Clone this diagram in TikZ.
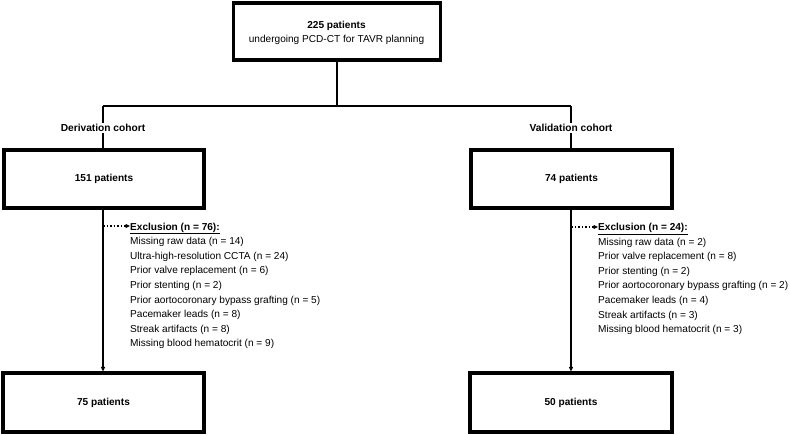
\documentclass[tikz,border=0pt]{standalone}
\usepackage{fontspec}
\setmainfont{Liberation Sans}
\usetikzlibrary{arrows.meta}
\begin{document}
\begin{tikzpicture}[x=1pt,y=-1pt,
  every node/.style={font=\fontsize{10.1}{14.6}\selectfont},
  boxnode/.style={draw=black,line width=3.2pt,fill=white,inner sep=0pt},
  conn/.style={line width=1.5pt,draw=black},
  arr/.style={conn,-{Triangle[length=4.5pt,width=4pt]}},
  dotarr/.style={line width=1.4pt,dash pattern=on 1.5pt off 2pt,-{Triangle[length=4.5pt,width=4pt]}},
  lbl/.style={font=\fontsize{10.2}{12}\selectfont\bfseries,inner sep=1pt},
  excl/.style={align=left,anchor=north west,inner sep=0pt}]
\useasboundingbox[fill=white] (0,0) rectangle (790,434);

\node[boxnode,minimum width=207pt,minimum height=57pt] (top) at (337,31.5) {};
\node[align=center,inner sep=0pt] (toptext) at (336.5,33)
  {\textbf{225 patients}\\undergoing PCD-CT for TAVR planning};

\coordinate (lc) at (103,106);
\coordinate (rc) at (571,106);

\node[lbl] (dlab) at (103,128) {Derivation cohort};
\node[lbl] (vlab) at (571,128) {Validation cohort};

\node[boxnode,minimum width=200pt,minimum height=58pt] (b151) at (104,179) {\textbf{151 patients}};
\node[boxnode,minimum width=201pt,minimum height=58pt] (b74) at (571.5,179) {\textbf{74 patients}};
\node[boxnode,minimum width=201pt,minimum height=59pt] (b75) at (103.5,402.5) {\textbf{75 patients}};
\node[boxnode,minimum width=202pt,minimum height=59pt] (b50) at (571,402.5) {\textbf{50 patients}};

\draw[conn] (top.south) -- (top.south |- lc);
\draw[conn] (lc) -- (rc);
\draw[conn] (lc) -- (dlab.north);
\draw[conn] (rc) -- (vlab.north);
\draw[conn] (dlab.south) -- (b151.north -| dlab.south);
\draw[conn] (vlab.south) -- (b74.north -| vlab.south);

\draw[arr] (b151.south -| 103,0) -- (b75.north -| 103,0);
\draw[arr] (b74.south -| 571,0) -- (b50.north -| 571,0);

\coordinate (ld) at (103,226);
\coordinate (rd) at (571,227);

\node[excl] (ex1) at (130,222.5)
  {\textbf{\underline{Exclusion (n = 76):}}\\
   Missing raw data (n = 14)\\
   Ultra-high-resolution CCTA (n = 24)\\
   Prior valve replacement (n = 6)\\
   Prior stenting (n = 2)\\
   Prior aortocoronary bypass grafting (n = 5)\\
   Pacemaker leads (n = 8)\\
   Streak artifacts (n = 8)\\
   Missing blood hematocrit (n = 9)};

\node[excl] (ex2) at (598,223)
  {\textbf{\underline{Exclusion (n = 24):}}\\
   Missing raw data (n = 2)\\
   Prior valve replacement (n = 8)\\
   Prior stenting (n = 2)\\
   Prior aortocoronary bypass grafting (n = 2)\\
   Pacemaker leads (n = 4)\\
   Streak artifacts (n = 3)\\
   Missing blood hematocrit (n = 3)};

\draw[dotarr] (ld) -- (ld -| ex1.west);
\draw[dotarr] (rd) -- (rd -| ex2.west);
\end{tikzpicture}
\end{document}
